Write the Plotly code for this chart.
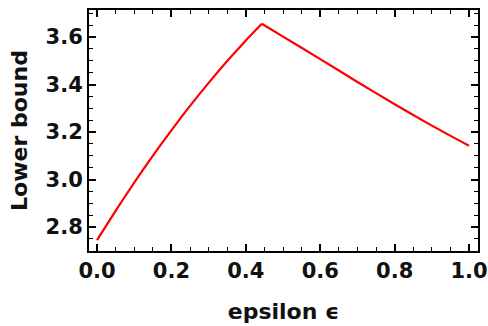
import plotly.graph_objects as go

epsilon = [0.0, 0.05, 0.1, 0.15, 0.2, 0.25, 0.3, 0.35, 0.4, 0.443,
           0.5, 0.6, 0.7, 0.8, 0.9, 1.0]
lower_bound = [2.745, 2.868, 2.987, 3.100, 3.207, 3.310, 3.407, 3.499, 3.586, 3.656,
               3.602, 3.507, 3.411, 3.317, 3.227, 3.142]

x_ticks = [0.0, 0.2, 0.4, 0.6, 0.8, 1.0]
x_ticklabels = ["0.0", "0.2", "0.4", "0.6", "0.8", "1.0"]
y_ticks = [2.8, 3.0, 3.2, 3.4, 3.6]
y_ticklabels = ["2.8", "3.0", "3.2", "3.4", "3.6"]

# index of the kink (maximum) so each branch is smoothed separately
peak = lower_bound.index(max(lower_bound))

fig = go.Figure()
for xs, ys in [(epsilon[:peak + 1], lower_bound[:peak + 1]),
               (epsilon[peak:], lower_bound[peak:])]:
    fig.add_trace(go.Scatter(x=xs, y=ys, mode="lines", line_shape="spline",
                             line=dict(color="#ff0000", width=2.2, smoothing=0.6),
                             showlegend=False))

tickfont = dict(family="DejaVu Sans", size=21, color="#111111")
titlefont = dict(family="DejaVu Sans", size=22, color="#111111")

axis_common = dict(
    showline=True, linecolor="black", linewidth=2, mirror="allticks",
    ticks="inside", ticklen=7, tickwidth=1.5, tickcolor="black",
    showgrid=False, zeroline=False, tickfont=tickfont, automargin=False,
)

fig.update_xaxes(
    range=[-0.0215, 1.024], tickvals=x_ticks,
    ticktext=["<b>%s</b>" % t for t in x_ticklabels],
    minor=dict(ticks="inside", ticklen=4, tickwidth=1.2, tickcolor="black", dtick=0.05, tick0=0, showgrid=False),
    title=dict(text="<b>epsilon ϵ</b>", font=titlefont, standoff=21),
    **axis_common,
)
fig.update_yaxes(
    range=[2.699, 3.714], tickvals=y_ticks,
    ticktext=["<b>%s</b>" % t for t in y_ticklabels],
    minor=dict(ticks="inside", ticklen=4, tickwidth=1.2, tickcolor="black", dtick=0.05, tick0=2.7, showgrid=False),
    title=dict(text="<b>Lower bound</b>", font=titlefont, standoff=12),
    **axis_common,
)

fig.update_layout(
    width=488, height=326,
    margin=dict(l=89, r=10, t=10, b=75),
    paper_bgcolor="white", plot_bgcolor="white",
    font=dict(family="DejaVu Sans", color="#111111"),
)

fig.write_html("out.html", config={"displayModeBar": False},
               post_script="document.body.style.margin='0';document.body.style.overflow='hidden';")
